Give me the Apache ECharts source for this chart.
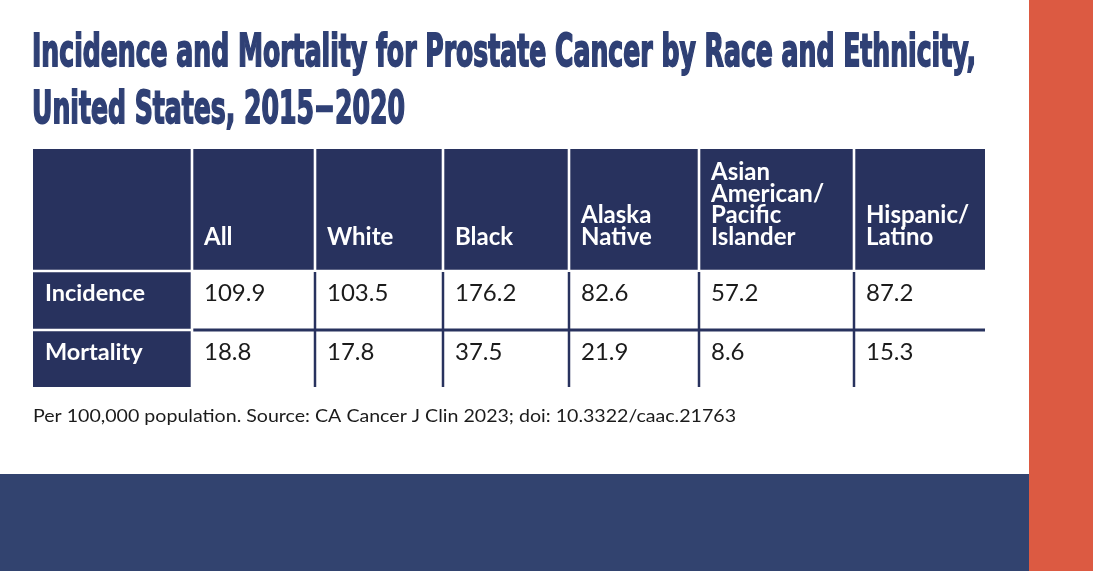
<!DOCTYPE html>
<html lang="en">
<head>
<meta charset="UTF-8">
<title>Prostate Cancer Incidence and Mortality</title>
<script src="https://cdn.jsdelivr.net/npm/echarts@6.0.0/dist/echarts.min.js"></script>
<style>
    html, body { margin: 0; padding: 0; background: #ffffff; }
    #main { width: 1093px; height: 571px; }
</style>
</head>
<body>
<div id="main"></div>
<script>
    // table content
    var columns = ['', 'All', 'White', 'Black', 'Alaska\nNative', 'Asian\nAmerican/\nPacific\nIslander', 'Hispanic/\nLatino'];
    var rowLabels = ['Incidence', 'Mortality'];
    var incidence = [109.9, 103.5, 176.2, 82.6, 57.2, 87.2];
    var mortality = [18.8, 17.8, 37.5, 21.9, 8.6, 15.3];

    var titleLines = ['Incidence and Mortality for Prostate Cancer by Race and Ethnicity,', 'United States, 2015\u22122020'];
    var note = 'Per 100,000 population. Source: CA Cancer J Clin 2023; doi: 10.3322/caac.21763';

    // layout of the table (column widths / row heights, px)
    var colW = [159, 123, 128, 126, 130, 155, 131];
    var rowH = [122, 59, 57];

    var NAVY = '#28325e';
    var TITLE_COLOR = '#2f4075';
    var TITLE_FONT = 'bold 45px "DejaVu Sans Condensed", "DejaVu Sans", sans-serif';
    var NOTE_FONT = '17px Lato';

    var xEdges = [0], yEdges = [0];
    colW.forEach(function (w, i) { xEdges.push(xEdges[i] + w); });
    rowH.forEach(function (h, i) { yEdges.push(yEdges[i] + h); });

    // cells: [col, row] + text
    var cellData = [], cellText = [];
    columns.forEach(function (name, c) {
        cellData.push([c, 0]);
        cellText.push(name);
    });
    [incidence, mortality].forEach(function (vals, r) {
        cellData.push([0, r + 1]);
        cellText.push(rowLabels[r]);
        vals.forEach(function (v, c) {
            cellData.push([c + 1, r + 1]);
            cellText.push(v.toFixed(1));
        });
    });

    // squeeze the title font to the condensed width of the original
    var ctx = document.createElement('canvas').getContext('2d');
    ctx.font = TITLE_FONT;
    var titleScale = 944 / ctx.measureText(titleLines[0]).width;
    ctx.font = NOTE_FONT;
    var noteScale = 703 / ctx.measureText(note).width;

    function renderItem(params, api) {
        var c = api.value(0), r = api.value(1);
        var tl = api.coord([xEdges[c], yEdges[r]]);
        var br = api.coord([xEdges[c + 1], yEdges[r + 1]]);
        var txt = cellText[params.dataIndex];
        var g = 1.3;
        var children = [];
        if (r === 0 || c === 0) {
            var x0 = tl[0] + (c > 0 ? g : 0), x1 = br[0] - (c < colW.length - 1 ? g : 0);
            var y0 = tl[1] + (r > 0 ? g : 0), y1 = br[1] - (r < rowH.length - 1 ? g : 0);
            children.push({
                type: 'rect',
                shape: { x: x0, y: y0, width: x1 - x0, height: y1 - y0 },
                style: { fill: NAVY }
            });
        } else {
            if (c > 1) {
                children.push({
                    type: 'line',
                    shape: { x1: tl[0], y1: tl[1] + 1, x2: tl[0], y2: br[1] },
                    style: { stroke: NAVY, lineWidth: 2.5 }
                });
            }
            if (r > 1) {
                children.push({
                    type: 'line',
                    shape: { x1: tl[0] + (c === 1 ? g : 0), y1: tl[1], x2: br[0], y2: tl[1] },
                    style: { stroke: NAVY, lineWidth: 3 }
                });
            }
        }
        if (r === 0) {
            children.push({
                type: 'text',
                x: tl[0] + 12,
                y: br[1] - 23,
                style: {
                    text: txt, fill: '#ffffff', font: 'bold 24px Lato',
                    lineHeight: 21.5, align: 'left', verticalAlign: 'bottom'
                }
            });
        } else {
            children.push({
                type: 'text',
                x: tl[0] + 12,
                y: tl[1] + 22.5,
                style: {
                    text: txt,
                    fill: c === 0 ? '#ffffff' : '#1b1b1b',
                    font: (c === 0 ? 'bold 23.5px' : '24px') + ' Lato',
                    align: 'left', verticalAlign: 'middle'
                }
            });
        }
        return { type: 'group', children: children };
    }

    var chart = echarts.init(document.getElementById('main'));
    chart.setOption({
        animation: false,
        backgroundColor: '#ffffff',
        grid: { left: 33, top: 149, width: 952, height: 238 },
        xAxis: { type: 'value', min: 0, max: xEdges[xEdges.length - 1], show: false },
        yAxis: { type: 'value', min: 0, max: yEdges[yEdges.length - 1], inverse: true, show: false },
        series: [{
            type: 'custom',
            renderItem: renderItem,
            data: cellData,
            silent: true
        }],
        graphic: [
            { type: 'rect', silent: true, shape: { x: 0, y: 474, width: 1029, height: 97 }, style: { fill: '#32436f' } },
            { type: 'rect', silent: true, shape: { x: 1029, y: 0, width: 64, height: 571 }, style: { fill: '#dc5a42' } },
            {
                type: 'text', x: 32, y: 54, scaleX: titleScale,
                style: { text: titleLines[0], font: TITLE_FONT, fill: TITLE_COLOR, stroke: TITLE_COLOR, lineWidth: 1.8, verticalAlign: 'middle' }
            },
            {
                type: 'text', x: 32, y: 111, scaleX: titleScale,
                style: { text: titleLines[1], font: TITLE_FONT, fill: TITLE_COLOR, stroke: TITLE_COLOR, lineWidth: 1.8, verticalAlign: 'middle' }
            },
            {
                type: 'text', x: 33, y: 417, scaleX: noteScale,
                style: { text: note, font: NOTE_FONT, fill: '#1b1b1b', verticalAlign: 'middle' }
            }
        ]
    });
</script>
</body>
</html>
